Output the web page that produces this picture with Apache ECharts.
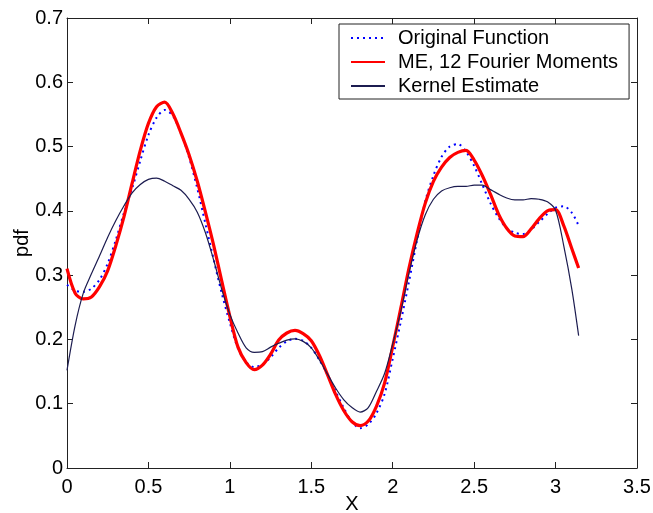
<!DOCTYPE html>
<html>
<head>
<meta charset="utf-8">
<script src="https://cdn.jsdelivr.net/npm/echarts@6/dist/echarts.min.js"></script>
<style>
  html, body { margin: 0; padding: 0; background: #fff; }
  #chart { width: 653px; height: 513px; }
</style>
</head>
<body>
<div id="chart"></div>
<script>
// Sample positions on [0, pi]
const xs = [0, 0.05, 0.1, 0.15, 0.2, 0.25, 0.3, 0.35, 0.4, 0.45,
  0.5, 0.55, 0.6, 0.65, 0.7, 0.75, 0.8, 0.85, 0.9, 0.95,
  1.0, 1.05, 1.1, 1.15, 1.2, 1.25, 1.3, 1.35, 1.4, 1.45,
  1.5, 1.55, 1.6, 1.65, 1.7, 1.75, 1.8, 1.85, 1.9, 1.95,
  2.0, 2.05, 2.1, 2.15, 2.2, 2.25, 2.3, 2.35, 2.4, 2.45,
  2.5, 2.55, 2.6, 2.65, 2.7, 2.75, 2.8, 2.85, 2.9, 2.95,
  3.0, 3.05, 3.1, 3.1416];

// Original density
const original = [0.285, 0.276, 0.274, 0.279, 0.293, 0.318, 0.355, 0.397, 0.435, 0.478,
  0.518, 0.545, 0.557, 0.548, 0.520, 0.483, 0.435, 0.380, 0.325, 0.272,
  0.226, 0.186, 0.165, 0.157, 0.161, 0.172, 0.187, 0.197, 0.201, 0.198,
  0.187, 0.168, 0.145, 0.119, 0.093, 0.072, 0.062, 0.068, 0.085, 0.115,
  0.170, 0.228, 0.290, 0.355, 0.415, 0.455, 0.484, 0.500, 0.504, 0.492,
  0.470, 0.441, 0.412, 0.389, 0.373, 0.366, 0.364, 0.371, 0.383, 0.395,
  0.405, 0.407, 0.397, 0.377];

// Maximum-entropy reconstruction from 12 Fourier moments
const maxEnt = [0.310, 0.272, 0.263, 0.266, 0.282, 0.307, 0.346, 0.391, 0.443, 0.494,
  0.536, 0.562, 0.569, 0.551, 0.521, 0.487, 0.446, 0.398, 0.347, 0.291,
  0.236, 0.188, 0.164, 0.153, 0.160, 0.177, 0.199, 0.210, 0.214, 0.209,
  0.198, 0.175, 0.145, 0.114, 0.089, 0.072, 0.066, 0.073, 0.096, 0.132,
  0.189, 0.249, 0.311, 0.365, 0.412, 0.446, 0.468, 0.483, 0.491, 0.494,
  0.479, 0.455, 0.426, 0.395, 0.373, 0.361, 0.360, 0.372, 0.388, 0.400,
  0.402, 0.377, 0.341, 0.311];

// Kernel density estimate
const kernel = [0.152, 0.222, 0.272, 0.302, 0.330, 0.359, 0.385, 0.408, 0.428, 0.441,
  0.449, 0.451, 0.446, 0.439, 0.432, 0.418, 0.398, 0.366, 0.324, 0.278,
  0.239, 0.210, 0.187, 0.180, 0.181, 0.188, 0.194, 0.199, 0.201, 0.197,
  0.187, 0.168, 0.146, 0.124, 0.106, 0.094, 0.087, 0.094, 0.119, 0.147,
  0.193, 0.244, 0.303, 0.355, 0.394, 0.418, 0.431, 0.436, 0.438, 0.438,
  0.440, 0.440, 0.433, 0.426, 0.420, 0.417, 0.417, 0.419, 0.418, 0.414,
  0.401, 0.346, 0.278, 0.206];

const seriesNames = ['Original Function', 'ME, 12 Fourier Moments', 'Kernel Estimate'];

const pair = ys => xs.map((x, i) => [x, ys[i]]);

const font = 'Liberation Sans, Arial, Helvetica, sans-serif';
const axisColor = '#222';

const chart = echarts.init(document.getElementById('chart'), null, { renderer: 'canvas' });

const baseX = {
  type: 'value', min: 0, max: 3.5, interval: 0.5,
  axisLine: { show: true, onZero: false, lineStyle: { color: axisColor, width: 1 } },
  axisTick: { show: true, inside: true, length: 6, lineStyle: { color: axisColor } },
  splitLine: { show: false }
};
const baseY = {
  type: 'value', min: 0, max: 0.7, interval: 0.1,
  axisLine: { show: true, onZero: false, lineStyle: { color: axisColor, width: 1 } },
  axisTick: { show: true, inside: true, length: 6, lineStyle: { color: axisColor } },
  splitLine: { show: false }
};

chart.setOption({
  animation: false,
  backgroundColor: '#fff',
  grid: { left: 67, right: 16, top: 18, bottom: 45, containLabel: false, outerBoundsMode: 'none' },
  legend: {
    data: seriesNames,
    orient: 'vertical',
    left: 339, top: 24,
    itemWidth: 34, itemHeight: 14, itemGap: 4,
    padding: [4, 11, 3, 11],
    backgroundColor: '#fff',
    borderColor: axisColor, borderWidth: 1, borderRadius: 0,
    itemStyle: { opacity: 0 },
    textStyle: { fontFamily: font, fontSize: 20, color: '#000', lineHeight: 20, padding: [0, 0, 0, 8] }
  },
  xAxis: [
    Object.assign({}, baseX, {
      position: 'bottom', name: 'X', nameLocation: 'middle', nameGap: 26, nameMoveOverlap: false,
      nameTextStyle: { fontFamily: font, fontSize: 20, color: '#000' },
      axisLabel: { show: true, margin: 9, fontFamily: font, fontSize: 20, color: '#000' }
    }),
    Object.assign({}, baseX, { position: 'top', axisLabel: { show: false } })
  ],
  yAxis: [
    Object.assign({}, baseY, {
      position: 'left', name: 'pdf', nameLocation: 'middle', nameGap: 35, nameRotate: 90, nameMoveOverlap: false,
      nameTextStyle: { fontFamily: font, fontSize: 20, color: '#000' },
      axisLabel: { show: true, margin: 4, fontFamily: font, fontSize: 20, color: '#000' }
    }),
    Object.assign({}, baseY, { position: 'right', axisLabel: { show: false } })
  ],
  series: [
    {
      name: seriesNames[0], type: 'line', data: pair(original),
      smooth: 0.3, showSymbol: false, symbol: 'none',
      color: '#0000ff',
      lineStyle: { color: '#0000ff', width: 2, type: [2, 4] }
    },
    {
      name: seriesNames[1], type: 'line', data: pair(maxEnt),
      smooth: 0.3, showSymbol: false, symbol: 'none',
      color: '#ff0000',
      lineStyle: { color: '#ff0000', width: 3.2 }
    },
    {
      name: seriesNames[2], type: 'line', data: pair(kernel),
      smooth: 0.3, showSymbol: false, symbol: 'none',
      color: '#1c1c50',
      lineStyle: { color: '#1c1c50', width: 1.2 }
    }
  ]
});
</script>
</body>
</html>
